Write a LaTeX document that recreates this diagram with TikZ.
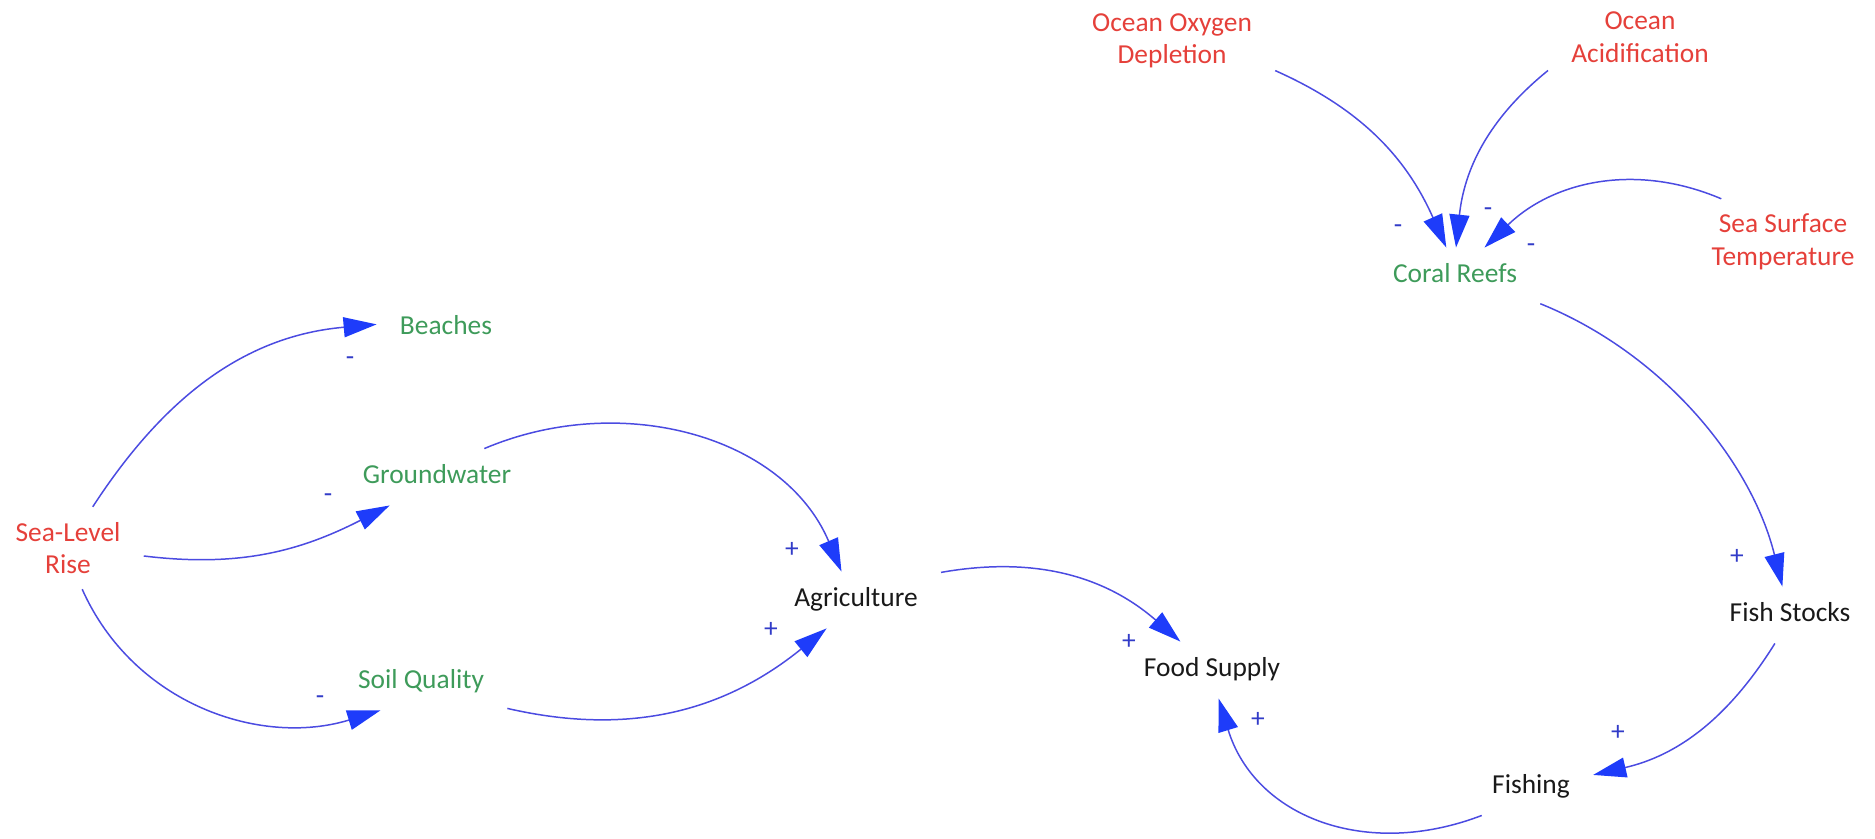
\documentclass[tikz,border=0pt]{standalone}
\usepackage{fontspec}
\setmainfont{Carlito}
\usepackage{xcolor}
\usetikzlibrary{arrows.meta, positioning}

\definecolor{causered}{RGB}{229,64,58}
\definecolor{stockgreen}{RGB}{62,155,90}
\definecolor{linkblue}{RGB}{75,75,225}
\definecolor{headblue}{RGB}{30,60,250}
\definecolor{signblue}{RGB}{50,60,200}

\begin{document}
\begin{tikzpicture}[on grid, auto,
    var/.style={rectangle, inner xsep=0.46cm, inner ysep=0.3cm, text height=11pt, text depth=3.9pt, font=\fontsize{15.6}{18.5}\selectfont},
    twoline/.style={rectangle, inner xsep=0.46cm, inner ysep=0.3cm, align=center, font=\fontsize{15.6}{18.5}\selectfont},
    cause/.style={twoline, text=causered},
    stock/.style={var, text=stockgreen},
    effect/.style={var, text=black!90},
    sign/.style={inner sep=0pt, text=signblue, font=\fontsize{15.6}{18.5}\selectfont},
    link/.style={draw=linkblue, line width=0.85pt, -{Triangle[length=6.6mm, width=4mm, color=headblue]}}]

    \useasboundingbox (0,0) rectangle (37.5,-16.76);

    \node [cause] (slr) at (1.36,-10.96) {Sea-Level\\Rise};
    \node [stock, above right=4.40cm and 7.56cm of slr] (beach) {Beaches};
    \node [stock, above right=1.42cm and 7.38cm of slr] (gw) {Groundwater};
    \node [stock, below right=2.68cm and 7.06cm of slr] (sq) {Soil Quality};
    \node [effect, below right=2.46cm and 8.38cm of gw] (agri) {Agriculture};
    \node [effect, below right=1.40cm and 7.12cm of agri] (fs) {Food Supply};
    \node [effect, below right=2.34cm and 6.38cm of fs] (fishing) {Fishing};
    \node [effect, above right=3.44cm and 5.18cm of fishing] (fist) {Fish Stocks};
    \node [stock, above left=6.78cm and 6.70cm of fist] (cr) {Coral Reefs};
    \node [cause, above left=4.70cm and 5.66cm of cr] (ood) {Ocean Oxygen\\Depletion};
    \node [cause, above right=4.78cm and 3.70cm of cr] (oa) {Ocean\\Acidification};
    \node [cause, above right=0.68cm and 6.56cm of cr] (sst) {Sea Surface\\Temperature};

    \node [sign, below left=0.66cm and 1.92cm of beach] (s1) {-};
    \node [sign, below left=0.42cm and 2.18cm of gw] (s2) {-};
    \node [sign, below left=0.36cm and 2.02cm of sq] (s3) {-};
    \node [sign, above left=1.00cm and 1.28cm of agri] (s4) {+};
    \node [sign, below left=0.60cm and 1.70cm of agri] (s5) {+};
    \node [sign, above left=0.56cm and 1.66cm of fs] (s6) {+};
    \node [sign, below right=1.00cm and 0.92cm of fs] (s7) {+};
    \node [sign, above left=1.16cm and 1.06cm of fist] (s8) {+};
    \node [sign, above right=1.08cm and 1.74cm of fishing] (s9) {+};
    \node [sign, above left=0.94cm and 1.14cm of cr] (s10) {-};
    \node [sign, above right=1.28cm and 0.66cm of cr] (s11) {-};
    \node [sign, above right=0.56cm and 1.52cm of cr] (s12) {-};

    \path [link] (slr.59) to [out=57, in=185] (beach.177);
    \path [link] (slr.-6) to [out=-7, in=207] (gw.211);
    \path [link] (slr.-71) to [out=-66, in=197] (sq.215);
    \path [link] (gw.31) to [out=23, in=113] (agri.117);
    \path [link] (sq.-17) to [out=-13, in=219] (agri.224);
    \path [link] (agri.18) to [out=10, in=139] (fs.138);
    \path [link] (cr.-18) to [out=-22, in=104, looseness=0.9] (fist.105);
    \path [link] (fist.242) to [out=238, in=13] (fishing.11);
    \path [link] (fishing.210) to [out=201, in=-73, looseness=1.1] (fs.-77);
    \path [link] (ood.-16) to [out=-24, in=114] (cr.107);
    \path [link] (oa.200) to [out=219, in=84] (cr.88);
    \path [link] (sst.145) to [out=157, in=44] (cr.44);
\end{tikzpicture}
\end{document}
